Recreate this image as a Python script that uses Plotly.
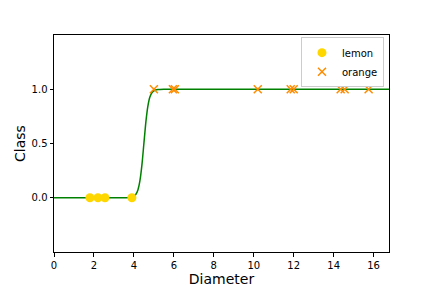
import plotly.graph_objects as go

# Data
lemon_diameter = [1.8, 2.2, 2.55, 3.9]
lemon_class = [0, 0, 0, 0]
orange_diameter = [5.0, 5.95, 6.05, 10.2, 11.85, 12.0, 14.35, 14.55, 15.75]
orange_class = [1, 1, 1, 1, 1, 1, 1, 1, 1]

# fitted curve, points
curve_x = [0.0, 3.6, 3.8, 4.0, 4.1, 4.2, 4.3, 4.4, 4.5, 4.6, 4.7, 4.8, 4.9, 5.0, 5.2, 5.5, 16.77]
curve_y = [0.0, 0.001, 0.003, 0.014, 0.032, 0.072, 0.155, 0.30, 0.50, 0.70, 0.845, 0.928, 0.968, 0.986, 0.997, 1.0, 1.0]

x_ticks = [0, 2, 4, 6, 8, 10, 12, 14, 16]
y_ticks = [0.0, 0.5, 1.0]
y_tick_labels = ["0.0", "0.5", "1.0"]

fig = go.Figure()
fig.add_trace(go.Scatter(x=curve_x, y=curve_y, mode="lines", line=dict(color="#008000", width=1.5, shape="spline", smoothing=0.6),
                         showlegend=False, hoverinfo="skip"))
fig.add_trace(go.Scatter(x=lemon_diameter, y=lemon_class, mode="markers", name="lemon",
                         marker=dict(symbol="circle", size=9, color="#FFD700", line=dict(width=0))))
fig.add_trace(go.Scatter(x=orange_diameter, y=orange_class, mode="markers", name="orange",
                         marker=dict(symbol="x-thin", size=8, color="#FF8C00", line=dict(width=1.5, color="#FF8C00"))))

axis_common = dict(showline=True, linecolor="black", linewidth=1, mirror=True, ticks="outside", ticklen=3.5,
                   tickwidth=1, tickcolor="black", showgrid=False, zeroline=False, automargin=False,
                   tickfont=dict(family="DejaVu Sans", size=10, color="black"))

fig.update_layout(
    width=432, height=288,
    margin=dict(l=54, r=43, t=35, b=36, autoexpand=False),
    paper_bgcolor="white", plot_bgcolor="white",
    xaxis=dict(range=[0, 16.77], tickvals=x_ticks, ticktext=[str(t) for t in x_ticks],
               title=dict(text="Diameter", font=dict(family="DejaVu Sans", size=14, color="black"), standoff=4),
               **axis_common),
    yaxis=dict(range=[-0.5, 1.5], tickvals=y_ticks, ticktext=y_tick_labels,
               title=dict(text="Class", font=dict(family="DejaVu Sans", size=14, color="black"), standoff=2),
               **axis_common),
    legend=dict(x=0.985, y=0.99, xanchor="right", yanchor="top", bgcolor="white",
                bordercolor="#cccccc", borderwidth=1, font=dict(family="DejaVu Sans", size=10, color="black"),
                itemwidth=30, tracegroupgap=0),
    showlegend=True,
)

fig.write_html("out.html")
